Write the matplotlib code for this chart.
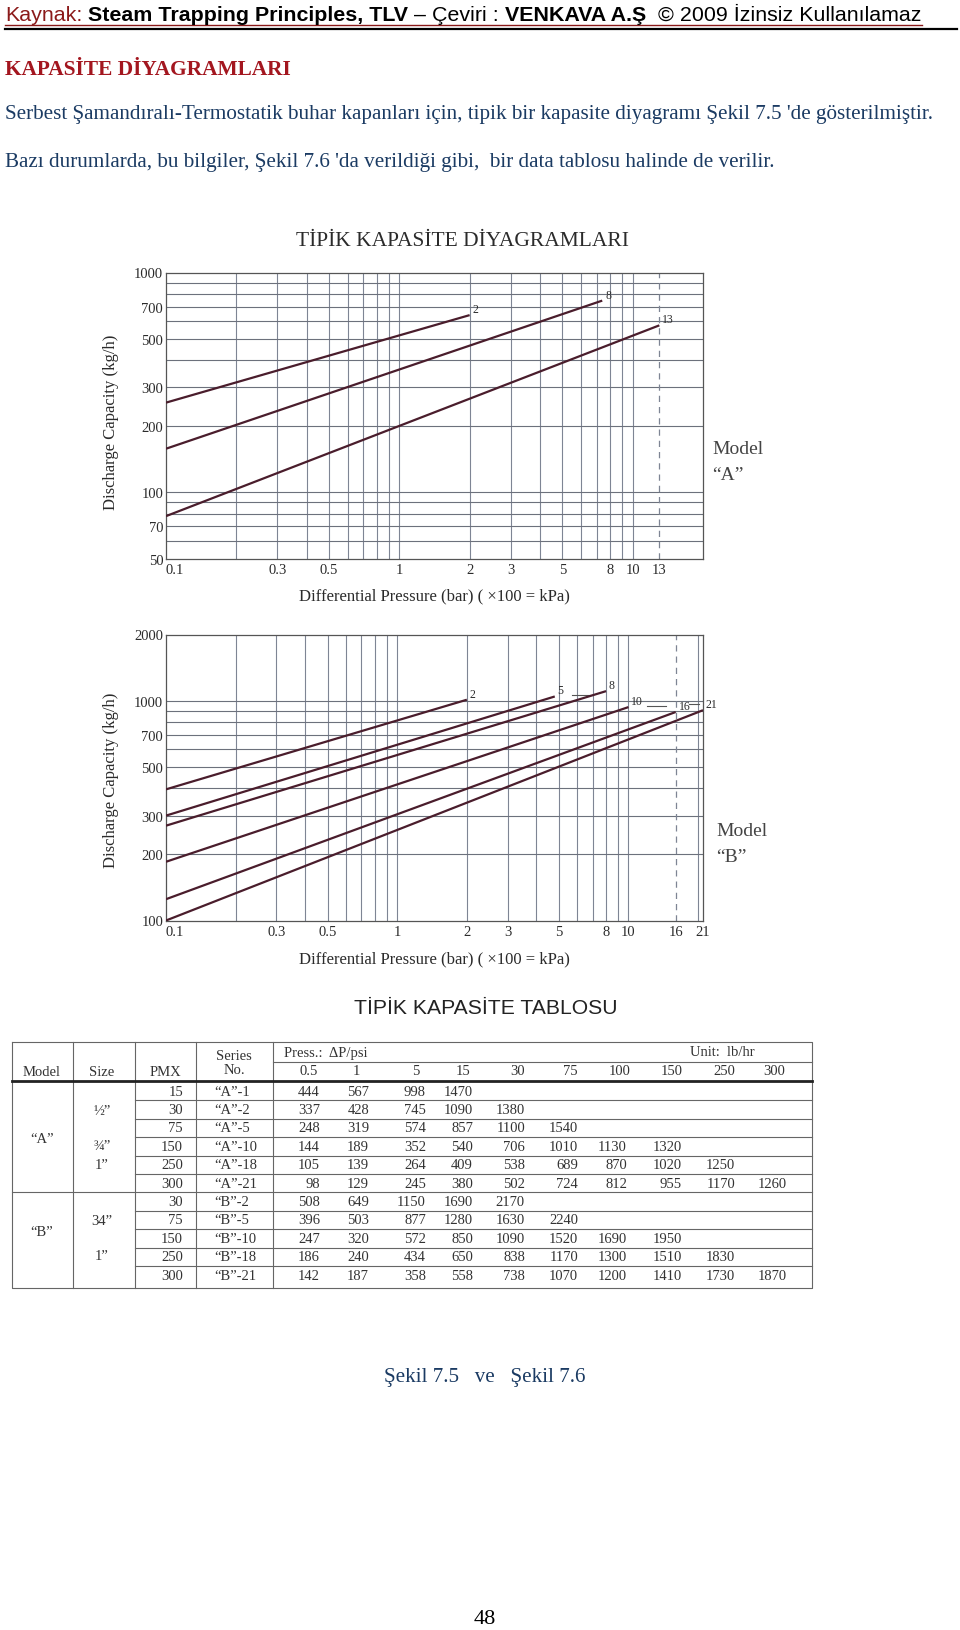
import matplotlib
matplotlib.use("Agg")
import matplotlib.pyplot as plt
from matplotlib import font_manager

W, H = 960, 1631

# ---- capacity diagram data ----
p_start = 0.1
a_series = ["2", "8", "13"]
a_p_end = [2.0, 7.4, 13.0]
a_cap_start = [256, 158, 78]
a_cap_end = [640, 745, 575]

b_series = ["2", "5", "8", "10", "16", "21"]
b_p_end = [2.0, 4.8, 8.0, 10.0, 16.0, 21.0]
b_cap_start = [395, 300, 270, 185, 125, 100]
b_cap_end = [1010, 1045, 1105, 935, 888, 905]

a_xticks = [0.1, 0.3, 0.5, 1, 2, 3, 5, 8, 10, 13]
a_yticks = [50, 70, 100, 200, 300, 500, 700, 1000]
b_xticks = [0.1, 0.3, 0.5, 1, 2, 3, 5, 8, 10, 16, 21]
b_yticks = [100, 200, 300, 500, 700, 1000, 2000]

vgrid = [0.2, 0.3, 0.4, 0.5, 0.6, 0.7, 0.8, 0.9, 1, 2, 3, 4, 5, 6, 7, 8, 9, 10]
a_hgrid = [60, 70, 80, 90, 100, 200, 300, 400, 500, 600, 700, 800, 900]
b_hgrid = [200, 300, 400, 500, 600, 700, 800, 900, 1000]

# ---- capacity table data ----
press_psi = ["0.5", "1", "5", "15", "30", "75", "100", "150", "250", "300"]
pmx = [15, 30, 75, 150, 250, 300, 30, 75, 150, 250, 300]
series_no = ["“A”-1", "“A”-2", "“A”-5", "“A”-10", "“A”-18", "“A”-21",
             "“B”-2", "“B”-5", "“B”-10", "“B”-18", "“B”-21"]
capacity = [
    [444, 567, 998, 1470],
    [337, 428, 745, 1090, 1380],
    [248, 319, 574, 857, 1100, 1540],
    [144, 189, 352, 540, 706, 1010, 1130, 1320],
    [105, 139, 264, 409, 538, 689, 870, 1020, 1250],
    [98, 129, 245, 380, 502, 724, 812, 955, 1170, 1260],
    [508, 649, 1150, 1690, 2170],
    [396, 503, 877, 1280, 1630, 2240],
    [247, 320, 572, 850, 1090, 1520, 1690, 1950],
    [186, 240, 434, 650, 838, 1170, 1300, 1510, 1830],
    [142, 187, 358, 558, 738, 1070, 1200, 1410, 1730, 1870],
]
model_labels = ["“A”", "“B”"]
size_labels_a = ["½”", "¾”", "1”"]
size_labels_b = ["34”", "1”"]

SERIF = ["Liberation Serif", "DejaVu Serif"]
names = {f.name for f in font_manager.fontManager.ttflist}
NARROW = ["Liberation Sans Narrow" if "Liberation Sans Narrow" in names else "Liberation Sans", "DejaVu Sans"]
SANS = ["Liberation Sans", "DejaVu Sans"]
plt.rcParams["font.family"] = SERIF

BLUE = "#1b3b63"
DARKRED = "#a3161f"
INK = "#2b2b2b"
LINE = "#4a1d2c"
GRID = "#7e8594"

fig = plt.figure(figsize=(W / 100, H / 100), dpi=100)
page = fig.add_axes([0, 0, 1, 1])
page.set_xlim(0, W)
page.set_ylim(H, 0)
page.axis("off")
r = fig.canvas.get_renderer()


def measure(s, **kw):
    t = page.text(0, 0, s, **kw)
    w = t.get_window_extent(r).width
    t.remove()
    return w


def fit(x, y, s, width, ha="left", **kw):
    t = page.text(x, y, s, ha=ha, va="center", fontsize=12, **kw)
    w = t.get_window_extent(r).width
    t.set_fontsize(12 * width / w)
    return t


# ---- header line ----
header = [("Kaynak:", "normal", "#8b1a1a", 0),
          ("Steam Trapping Principles, TLV", "bold", "black", 1),
          ("–", "normal", "black", 1),
          ("Çeviri :", "normal", "black", 1),
          ("VENKAVA A.Ş", "bold", "black", 1),
          ("© 2009 İzinsiz Kullanılamaz", "normal", "black", 2)]


def run_width(size):
    sp = measure("x x", fontsize=size, family=NARROW) - measure("xx", fontsize=size, family=NARROW)
    tot = 0
    for s, wt, c, gap in header:
        tot += gap * sp + measure(s, fontsize=size, family=NARROW, weight=wt)
    return tot, sp


tot, _ = run_width(12)
hsize = 12 * 912 / tot
_, sp = run_width(hsize)
x = 5
for s, wt, c, gap in header:
    x += gap * sp
    t = page.text(x, 21, s, fontsize=hsize, family=NARROW, weight=wt, color=c, va="baseline")
    x += t.get_window_extent(r).width
page.plot([5, x], [26, 26], color="#8b1a1a", lw=1.0)
page.plot([5, 957], [30, 30], color="black", lw=1.6)

fit(5, 70, "KAPASİTE DİYAGRAMLARI", 286, weight="bold", color=DARKRED)
t1 = fit(5, 115, "Serbest Şamandıralı-Termostatik buhar kapanları için, tipik bir kapasite diyagramı Şekil 7.5 'de gösterilmiştir.",
         928, color=BLUE)
page.text(5, 163, "Bazı durumlarda, bu bilgiler, Şekil 7.6 'da verildiği gibi,  bir data tablosu halinde de verilir.",
          fontsize=t1.get_fontsize(), color=BLUE, va="center")

fit(296, 241, "TİPİK KAPASİTE DİYAGRAMLARI", 332, color=INK)


# ---- the two log-log capacity charts ----
def chart(box, series, p_end, cap0, cap1, xmax, ylim, xticks, yticks, hgrid, vlines, dashed):
    l, t, rr, b = box
    ax = fig.add_axes([l / W, 1 - b / H, (rr - l) / W, (b - t) / H])
    ax.set_xscale("log")
    ax.set_yscale("log")
    for v in vlines:
        ax.axvline(v, color=GRID, lw=0.8, zorder=1)
    for v in hgrid:
        ax.axhline(v, color="#6c717c", lw=0.8, zorder=1)
    ax.axvline(dashed, color=GRID, lw=0.9, ls=(0, (5, 4)), zorder=1)
    for s, pe, c0, c1 in zip(series, p_end, cap0, cap1):
        ax.plot([p_start, pe], [c0, c1], color=LINE, lw=1.6, zorder=3, solid_capstyle="butt")
        ax.annotate(s, (pe, c1), xytext=(2, 0), textcoords="offset points",
                    fontsize=8.5, color=INK, ha="left", va="bottom")
    ax.set_xlim(p_start, xmax)
    ax.set_ylim(*ylim)
    ax.set_xticks(xticks, [f"{v:g}" for v in xticks])
    ax.set_yticks(yticks, [f"{v:g}" for v in yticks])
    ax.minorticks_off()
    ax.tick_params(length=0, labelsize=10.5, colors=INK, pad=3)
    ax.tick_params(axis="y", pad=2)
    ax.get_xticklabels()[0].set_horizontalalignment("left")
    for sp_ in ax.spines.values():
        sp_.set_color("#555555")
        sp_.set_linewidth(0.9)
    return ax


chart((166, 273.5, 703, 559.6), a_series, a_p_end, a_cap_start, a_cap_end,
      20, (50, 1000), a_xticks, a_yticks, a_hgrid, vgrid, 13)
axb = chart((166, 635.5, 703, 921.5), b_series, b_p_end, b_cap_start, b_cap_end,
            21, (100, 2000), b_xticks, b_yticks, b_hgrid, vgrid + [20], 16)
# short leader strokes that run on from some series labels in chart B
for x0, x1, yv in [(5.7, 6.9, 1062), (12.0, 14.6, 950), (18.2, 20.2, 965)]:
    axb.plot([x0, x1], [yv, yv], color="#555555", lw=0.8, zorder=2)

for yc, xl in [(422, 596), (780, 959)]:
    page.text(111, yc, "Discharge Capacity (kg/h)", rotation=90, fontsize=12,
              color=INK, ha="center", va="center")
    page.text(434, xl, "Differential Pressure (bar) ( ×100 = kPa)", fontsize=12,
              color=INK, ha="center", va="center")

page.text(712, 450, "Model", fontsize=14, color="#444444", va="center")
page.text(712, 476, "“A”", fontsize=14, color="#444444", va="center")
page.text(716, 832, "Model", fontsize=14, color="#444444", va="center")
page.text(716, 858, "“B”", fontsize=14, color="#444444", va="center")

# ---- table ----
fit(486, 1009, "TİPİK KAPASİTE TABLOSU", 262, ha="center", family=SANS, color="#222222")

L, R, TOP, BOT = 12, 812, 1043, 1289
row_top, row_h = 1083, 18.4
col_right = [320, 369, 426, 473, 525, 578, 627, 682, 735, 787]
col_head = [309, 356, 416, 463, 518, 570, 620, 672, 724, 774]
tcol = "#666666"
tk = dict(fontsize=10.5, color="#333333", va="center")

page.plot([L, R, R, L, L], [TOP, TOP, BOT, BOT, TOP], color=tcol, lw=0.8)
for xv in [73, 135, 196, 273]:
    page.plot([xv, xv], [TOP, BOT], color=tcol, lw=0.8)
page.plot([273, R], [1063, 1063], color=tcol, lw=0.8)
page.plot([L, R], [1082, 1082], color="#222222", lw=2.0)

page.text(42, 1073, "Model", ha="center", **tk)
page.text(102, 1073, "Size", ha="center", **tk)
page.text(165, 1073, "PMX", ha="center", **tk)
page.text(234, 1057, "Series", ha="center", **tk)
page.text(234, 1071, "No.", ha="center", **tk)
page.text(284, 1054, "Press.:  ΔP/psi", ha="left", **tk)
page.text(722, 1053, "Unit:  lb/hr", ha="center", **tk)
for xh, s in zip(col_head, press_psi):
    page.text(xh, 1072, s, ha="center", **tk)

for i, (pm, sn, vals) in enumerate(zip(pmx, series_no, capacity)):
    yc = row_top + row_h * (i + 0.5)
    page.text(183, yc, str(pm), ha="right", **tk)
    page.text(214, yc, sn, ha="left", **tk)
    for xr, v in zip(col_right, vals):
        page.text(xr, yc, str(v), ha="right", **tk)
    yb = row_top + row_h * (i + 1)
    if i == 5:
        page.plot([L, R], [yb, yb], color=tcol, lw=0.8)
    elif i < len(pmx) - 1:
        page.plot([135, R], [yb, yb], color=tcol, lw=0.8)

page.text(42, 1140, model_labels[0], ha="center", **tk)
page.text(42, 1233, model_labels[1], ha="center", **tk)
for yv, s in zip([1111, 1147, 1166], size_labels_a):
    page.text(102, yv, s, ha="center", **tk)
for yv, s in zip([1222, 1257], size_labels_b):
    page.text(102, yv, s, ha="center", **tk)

# ---- footer ----
fit(485, 1378, "Şekil 7.5   ve   Şekil 7.6", 201, ha="center", color=BLUE)
page.text(485, 1620, "48", fontsize=16, color="black", ha="center", va="center")

fig.savefig("out.png", dpi=100, facecolor="white")
